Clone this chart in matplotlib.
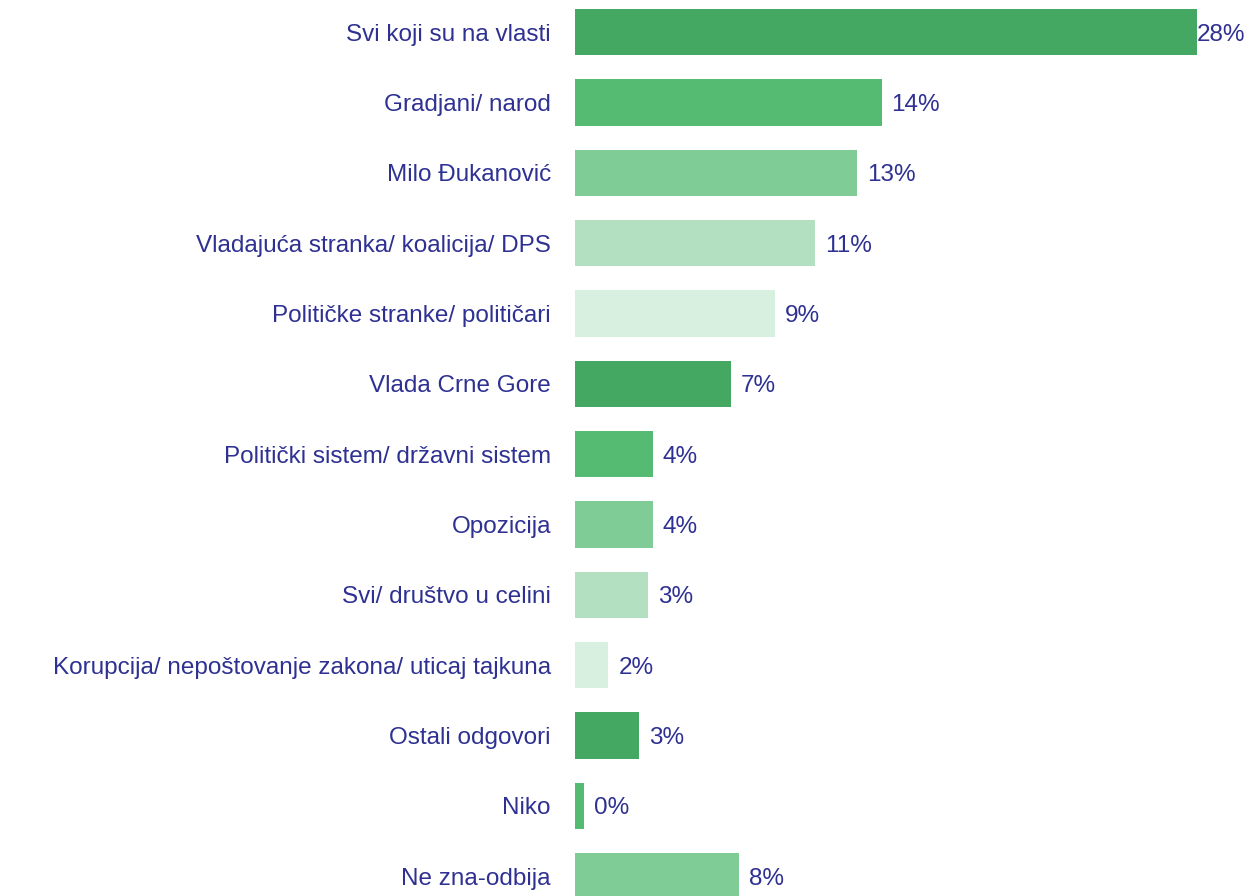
import matplotlib.pyplot as plt

# Kategorije i vrijednosti (procenti)
kategorije = [
    "Svi koji su na vlasti",
    "Gradjani/ narod",
    "Milo Đukanović",
    "Vladajuća stranka/ koalicija/ DPS",
    "Političke stranke/ političari",
    "Vlada Crne Gore",
    "Politički sistem/ državni sistem",
    "Opozicija",
    "Svi/ društvo u celini",
    "Korupcija/ nepoštovanje zakona/ uticaj tajkuna",
    "Ostali odgovori",
    "Niko",
    "Ne zna-odbija",
]
vrijednosti = [28.0, 13.8, 12.7, 10.8, 9.0, 7.0, 3.5, 3.5, 3.3, 1.5, 2.9, 0.4, 7.4]
oznake = ["28%", "14%", "13%", "11%", "9%", "7%", "4%", "4%", "3%", "2%", "3%", "0%", "8%"]

paleta = ["#45a862", "#55bb72", "#80cc96", "#b2e0c0", "#d8f0e0"]
boje = [paleta[i % len(paleta)] for i in range(len(kategorije))]
boja_teksta = "#2e3192"

plt.rcParams['font.family'] = ['Liberation Sans', 'DejaVu Sans']
vel = 17.5

fig = plt.figure(figsize=(12.51, 8.96), dpi=100)
ax = fig.add_axes([575 / 1251, 0, 622 / 1251, 1])

pozicije = list(range(len(kategorije)))
ax.barh(pozicije, vrijednosti, height=0.66, color=boje)

ax.set_xlim(0, 28)
ax.set_ylim(12.28, -0.455)
ax.set_yticks(pozicije)
ax.set_yticklabels(kategorije, fontsize=vel, color=boja_teksta, va='center_baseline')
ax.tick_params(axis='y', length=0, pad=17.3)
ax.set_xticks([])
for s in ax.spines.values():
    s.set_visible(False)

# Oznake vrijednosti
najveca = max(vrijednosti)
for y, v, t in zip(pozicije, vrijednosti, oznake):
    pomak = 0 if v == najveca else 10
    ax.annotate(t, (v, y), xytext=(pomak * 0.72, 0), textcoords='offset points',
                va='center_baseline', ha='left', fontsize=vel, color=boja_teksta,
                annotation_clip=False)

fig.savefig("out.png", dpi=100)
